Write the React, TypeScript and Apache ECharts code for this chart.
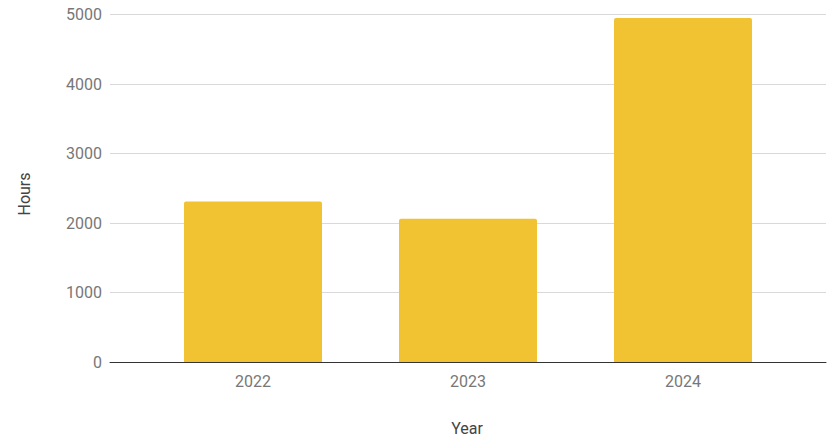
import React, { useEffect, useRef } from "react";
import * as echarts from "echarts";

const categories = ["2022", "2023", "2024"];
const hours = [2310, 2060, 4950];
const yTicks = [0, 1000, 2000, 3000, 4000, 5000];

export default function App() {
  const ref = useRef<HTMLDivElement>(null);
  useEffect(() => {
    const chart = echarts.init(ref.current!, null, { renderer: "svg" });
    const font = "Roboto, 'Noto Sans', sans-serif";
    chart.setOption({
      animation: false,
      grid: { left: 110, right: 7, top: 14.5, bottom: 78 },
      xAxis: {
        type: "value",
        min: -0.665,
        max: categories.length - 1 + 0.665,
        splitLine: { show: false },
        axisTick: { show: false },
        axisLine: { show: true, lineStyle: { color: "#333", width: 1 } },
        axisLabel: {
          customValues: categories.map((_, i) => i),
          formatter: (v: number) => categories[Math.round(v)] ?? "",
          color: "#777",
          fontSize: 16,
          fontFamily: font,
          margin: 11,
        },
      },
      yAxis: {
        type: "value",
        min: yTicks[0],
        max: yTicks[yTicks.length - 1],
        interval: 1000,
        axisLine: { show: false },
        axisTick: { show: false },
        splitLine: { lineStyle: { color: "#d9d9d9", width: 1 } },
        axisLabel: {
          color: "#777",
          fontSize: 16,
          fontFamily: font,
          margin: 8,
          formatter: (v: number) => String(v),
        },
      },
      series: [
        {
          type: "bar",
          data: hours.map((h, i) => [i, h]),
          barWidth: 138,
          itemStyle: { color: "#F1C232", borderRadius: [2, 2, 0, 0] },
        },
      ],
      graphic: [
        {
          type: "text",
          x: 467,
          y: 428,
          style: {
            text: "Year",
            fill: "#444",
            fontSize: 16,
            fontFamily: font,
            align: "center",
            verticalAlign: "middle",
          },
        },
        {
          type: "text",
          x: 24,
          y: 194,
          rotation: Math.PI / 2,
          style: {
            text: "Hours",
            fill: "#444",
            fontSize: 16,
            fontFamily: font,
            align: "center",
            verticalAlign: "middle",
          },
        },
      ],
    });
    return () => chart.dispose();
  }, []);
  return <div ref={ref} style={{ width: 833, height: 440, position: "absolute", left: 0, top: 0 }} />;
}
